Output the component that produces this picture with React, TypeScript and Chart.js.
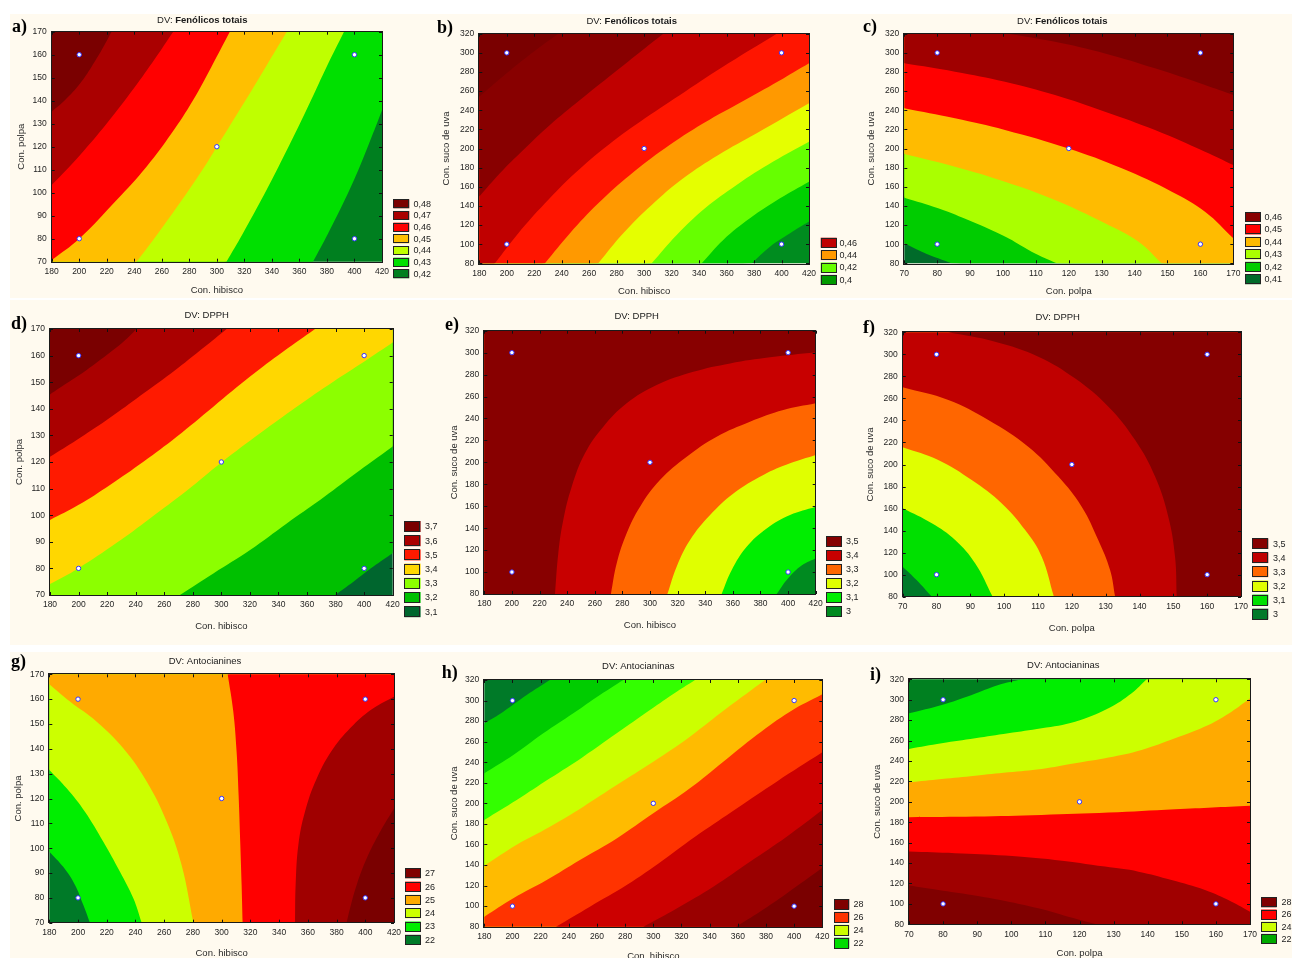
import React, { useEffect, useRef } from 'react';
import { Chart, registerables } from 'chart.js';

Chart.register(...registerables);

type Pt = [number, number];

// ---------- axis ranges [min, max, step] ----------
const hibiscoRange = [180, 420, 20];
const polpaRange = [70, 170, 10];
const sucoRange = [80, 320, 20];

// ---------- design points ----------
const hibPolpaDesign: Pt[] = [[200, 160], [400, 160], [300, 120], [200, 80], [400, 80]];
const hibSucoDesign: Pt[] = [[200, 300], [400, 300], [300, 200], [200, 100], [400, 100]];
const polpaSucoDesign: Pt[] = [[80, 300], [160, 300], [120, 200], [80, 100], [160, 100]];

// ---------- a) Fenólicos totais: hibisco x polpa ----------
const aBoundaries: Pt[][] = [
  [[369.9, 70], [380.8, 82.3], [392.9, 96.8], [403.8, 111.3], [413.5, 125.8], [420, 135.9]],
  [[307.0, 70], [318.9, 82.3], [332.2, 96.8], [344.8, 111.3], [356.9, 125.8], [368.5, 140.3], [379.8, 154.8], [392.4, 170]],
  [[241.7, 70], [257.2, 82.3], [274.6, 96.8], [291.0, 111.3], [300, 120], [321.0, 140.3], [335.6, 154.8], [350.8, 170]],
  [[180, 70.7], [200, 80], [227.2, 96.8], [248.9, 111.3], [267.1, 125.8], [282.8, 140.3], [296.1, 154.8], [309.4, 170]],
  [[180, 103.3], [200, 116.0], [220, 130.1], [240, 145.6], [255, 158.2], [268.3, 170]],
  [[180, 135.2], [189.7, 140.3], [200.6, 147.5], [209.0, 154.8], [216.3, 162.0], [223.5, 170]],
];
const aSides = ['tr tl bl', 'tl bl', 'tl bl', 'tl', 'tl', 'tl'];
const aRegionColors = ['#007f1f', '#00e000', '#bfff00', '#ffbf00', '#ff0000', '#aa0000', '#7a0000'];
const aLegendLabels = ['0,48', '0,47', '0,46', '0,45', '0,44', '0,43', '0,42'];
const aLegendColors = ['#7a0000', '#aa0000', '#ff0000', '#ffbf00', '#bfff00', '#00e000', '#007f1f'];

// ---------- b) Fenólicos totais: hibisco x suco ----------
const bBoundaries: Pt[][] = [
  [[378.3, 80], [391.6, 97.4], [406.2, 111.4], [420, 123.6]],
  [[341.9, 80], [357.6, 104.4], [377.0, 127.0], [398.9, 147.9], [420, 165.3]],
  [[305.5, 80], [323.7, 109.6], [344.3, 137.5], [367.3, 161.9], [394.0, 186.3], [420, 207.1]],
  [[266.6, 80], [284.8, 111.4], [305.5, 141.0], [328.5, 168.8], [354.0, 193.2], [381.9, 215.9], [420, 247.2]],
  [[227.8, 80], [246.0, 111.4], [266.6, 142.7], [289.7, 172.3], [315.2, 200.2], [343.1, 226.3], [373.4, 250.7], [401.3, 273.3], [420, 289.0]],
  [[191.4, 80], [208.4, 111.4], [227.8, 142.7], [249.6, 174.1], [273.9, 203.7], [300.6, 231.5], [329.7, 259.4], [361.3, 289.0], [396.5, 320]],
  [[180, 149.7], [195.0, 174.1], [212.0, 198.4], [231.4, 224.6], [253.3, 250.7], [277.6, 278.6], [295.7, 299.4], [314.0, 320]],
  [[180, 254.2], [192.6, 269.8], [207.2, 287.3], [221.7, 303.6], [237.5, 320]],
];
const bSides = ['tr tl bl', 'tr tl bl', 'tr tl bl', 'tr tl bl', 'tr tl bl', 'tl bl', 'tl', 'tl'];
const bRegionColors = ['#008c1f', '#00d000', '#66ff00', '#e5ff00', '#ff9900', '#ff1500', '#c00000', '#880000', '#7a0000'];
const bLegendLabels = ['0,46', '0,44', '0,42', '0,4'];
const bLegendColors = ['#c00000', '#ff9900', '#66ff00', '#009a00'];

// ---------- c) Fenólicos totais: polpa x suco ----------
const cBoundaries: Pt[][] = [
  [[70, 100.9], [75.3, 92.2], [80.3, 85.3], [84.4, 80]],
  [[70, 148.6], [80.3, 137.5], [90.5, 123.6], [100.6, 107.9], [108.7, 92.2], [116.3, 80]],
  [[70, 194.3], [85.4, 181.0], [100.6, 165.3], [115.8, 146.2], [131.0, 121.8], [141.1, 102.7], [148.2, 80]],
  [[70, 242.0], [85.4, 231.5], [100.6, 219.3], [119.65, 200.2], [136.1, 179.3], [151.3, 154.9], [161.4, 134.0], [170, 106.1]],
  [[70, 289.0], [85.4, 280.3], [100.6, 269.8], [115.8, 255.9], [131.0, 238.5], [146.2, 219.3], [161.4, 196.7], [170, 182.8]],
  [[101.6, 320], [115.8, 311.6], [131.0, 299.4], [146.2, 283.8], [161.4, 266.4], [170, 255.9]],
];
const cSides = ['br tr tl', 'br tr tl', 'br tr tl', 'tr tl', 'tr tl', 'tr'];
const cRegionColors = ['#006b2a', '#00cc00', '#aaff00', '#ffbb00', '#ff0000', '#a00000', '#7f0000'];
const cLegendLabels = ['0,46', '0,45', '0,44', '0,43', '0,42', '0,41'];
const cLegendColors = ['#880000', '#ff0000', '#ffbb00', '#aaff00', '#00cc00', '#006b2a'];

// ---------- d) DPPH: hibisco x polpa ----------
const dBoundaries: Pt[][] = [
  [[379.6, 70], [392.5, 75.0], [406.5, 80.7], [420, 85.7]],
  [[271.0, 70], [294.4, 78.1], [320.1, 86.9], [345.8, 96.9], [369.1, 105.7], [392.5, 115.1], [420, 125.8]],
  [[180, 74.1], [199.8, 80.0], [226.7, 89.6], [250.0, 98.8], [275.7, 109.2], [300.2, 119.9], [327.1, 130.8], [352.8, 140.8], [378.4, 150.2], [399.9, 157.7], [420, 164.9]],
  [[180, 98.2], [199.8, 103.8], [222.0, 111.4], [245.4, 120.1], [268.7, 129.5], [294.4, 140.8], [320.1, 152.1], [343.4, 161.5], [365.6, 170]],
  [[180, 122.0], [198.7, 128.3], [219.7, 135.8], [240.7, 143.9], [261.7, 152.1], [282.7, 160.9], [303.7, 170]],
  [[180, 145.4], [191.7, 149.6], [205.7, 154.6], [219.7, 160.2], [231.4, 165.2], [240.7, 170]],
];
const dSides = ['tr tl bl', 'tr tl bl', 'tr tl', 'tl', 'tl', 'tl'];
const dRegionColors = ['#00662e', '#00c000', '#8cff00', '#ffd700', '#ff1a00', '#aa0000', '#7a0000'];
const dLegendLabels = ['3,7', '3,6', '3,5', '3,4', '3,3', '3,2', '3,1'];
const dLegendColors = ['#7a0000', '#aa0000', '#ff1a00', '#ffd700', '#8cff00', '#00c000', '#00662e'];

// ---------- e) DPPH: hibisco x suco ----------
const eBoundaries: Pt[][] = [
  [[391.8, 80], [399.0, 92.8], [408.6, 104.9], [420, 112.5]],
  [[351.9, 80], [359.2, 101.9], [370.0, 123.1], [384.5, 139.8], [401.4, 152.0], [420, 159.6]],
  [[312.6, 80], [319.3, 104.9], [329.0, 129.2], [343.5, 152.0], [360.4, 171.7], [382.1, 188.5], [401.4, 199.1], [420, 206.7]],
  [[271.7, 80], [275.9, 108.0], [283.1, 135.3], [292.8, 159.6], [307.2, 183.9], [326.6, 205.2], [348.3, 223.4], [372.4, 237.1], [396.6, 247.7], [420, 253.8]],
  [[231.2, 80], [233.6, 117.1], [237.2, 147.4], [243.3, 177.8], [252.9, 208.2], [266.2, 232.5], [283.1, 253.8], [304.8, 270.5], [331.4, 282.6], [358.0, 290.2], [386.9, 295.7], [420, 300.3]],
];
const eSides = ['tr tl bl', 'tr tl bl', 'tr tl bl', 'tr tl bl', 'tr tl bl'];
const eRegionColors = ['#008a20', '#00ee00', '#e0ff00', '#ff6600', '#c80000', '#880000'];
const eLegendLabels = ['3,5', '3,4', '3,3', '3,2', '3,1', '3'];
const eLegendColors = ['#850000', '#c80000', '#ff6600', '#e0ff00', '#00ee00', '#008a20'];

// ---------- f) DPPH: polpa x suco ----------
const fBoundaries: Pt[][] = [
  [[70, 107.2], [74.1, 95.1], [78.6, 80]],
  [[70, 160.2], [78.6, 146.6], [85.5, 131.4], [91.4, 110.3], [96.6, 80]],
  [[70, 215.6], [80.5, 204.1], [90.4, 185.9], [99.3, 164.7], [106.2, 140.5], [111.1, 116.3], [114.7, 80]],
  [[70, 270.1], [83.5, 258.6], [95.3, 240.4], [107.1, 216.2], [116.0, 189.0], [122.9, 161.7], [127.8, 131.4], [131.3, 104.2], [132.8, 80]],
  [[83.5, 320], [97.3, 311.5], [110.1, 297.9], [120.9, 278.2], [130.8, 252.5], [138.7, 222.2], [144.6, 189.0], [148.5, 152.6], [150.5, 116.3], [151.0, 80]],
];
const fSides = ['br tr tl', 'br tr tl', 'br tr tl', 'br tr tl', 'br tr'];
const fRegionColors = ['#007a2a', '#00e000', '#e0ff00', '#ff6600', '#c00000', '#850000'];
const fLegendLabels = ['3,5', '3,4', '3,3', '3,2', '3,1', '3'];
const fLegendColors = ['#850000', '#c00000', '#ff6600', '#e0ff00', '#00e000', '#007a2a'];

// ---------- g) Antocianinas: hibisco x polpa ----------
const gBoundaries: Pt[][] = [
  [[180, 98.6], [189.7, 92.5], [197.9, 85.2], [203.7, 77.1], [208.3, 70]],
  [[180, 131.5], [192.1, 124.1], [204.8, 114.7], [217.6, 102.6], [229.2, 90.5], [238.5, 79.8], [244.3, 70]],
  [[180, 166.0], [194.4, 159.0], [213.0, 150.9], [231.5, 140.2], [247.8, 126.8], [261.7, 110.7], [272.1, 93.2], [280.3, 70]],
  [[304.2, 170], [308.1, 155.0], [310.4, 138.9], [311.8, 121.4], [313.0, 101.3], [313.9, 85.2], [314.6, 70]],
  [[420, 161.0], [405.6, 156.3], [391.7, 149.6], [377.8, 140.2], [366.2, 128.1], [358.0, 114.7], [353.4, 101.3], [351.5, 85.2], [351.1, 70]],
  [[420, 116.0], [410.3, 106.6], [401.0, 95.9], [394.0, 85.2], [389.4, 75.8], [387.0, 70]],
];
const gSides = ['br tr tl', 'br tr tl', 'br tr tl', 'br tr', 'br', 'br'];
const gRegionColors = ['#007a28', '#00ee00', '#ccff00', '#ffaa00', '#ff0000', '#a00000', '#7a0000'];
const gLegendLabels = ['27', '26', '25', '24', '23', '22'];
const gLegendColors = ['#800000', '#ff0000', '#ffaa00', '#ccff00', '#00ee00', '#007a28'];

// ---------- h) Antocianinas: hibisco x suco ----------
const hBoundaries: Pt[][] = [
  [[180, 277.8], [193.5, 289.2], [210.1, 305.4], [226.6, 320]],
  [[180, 229.2], [200.6, 247.0], [221.9, 268.1], [243.2, 287.6], [262.1, 305.4], [278.7, 320]],
  [[180, 183.8], [203.0, 203.2], [226.6, 224.3], [250.3, 245.4], [274.0, 268.1], [297.6, 290.8], [316.6, 308.6], [329.6, 320]],
  [[180, 139.4], [203.0, 159.8], [226.6, 177.3], [250.3, 196.8], [274.0, 217.8], [300.0, 240.5], [326.0, 264.9], [352.1, 292.4], [379.3, 320]],
  [[180, 89.7], [200.6, 107.6], [224.3, 125.4], [247.9, 144.9], [274.0, 165.9], [300.0, 190.3], [326.0, 214.6], [349.7, 240.5], [373.4, 266.5], [397.0, 289.2], [420, 306.1]],
  [[230.9, 80], [255.0, 99.5], [281.1, 120.5], [307.1, 144.9], [333.1, 170.8], [359.2, 195.1], [387.6, 221.1], [420, 249.6]],
  [[292.9, 80], [316.6, 97.8], [342.6, 118.9], [368.6, 143.2], [394.7, 167.6], [420, 193.5]],
  [[358.7, 80], [375.7, 94.6], [394.7, 112.4], [420, 137.4]],
];
const hSides = ['tr br bl', 'tr br bl', 'tr br bl', 'tr br bl', 'br bl', 'br', 'br', 'br'];
const hRegionColors = ['#007a28', '#00cc00', '#33ff00', '#ccff00', '#ffbb00', '#ff3300', '#cc0000', '#9a0000', '#7a0000'];
const hLegendLabels = ['28', '26', '24', '22'];
const hLegendColors = ['#800000', '#ff3300', '#ccff00', '#00dd00'];

// ---------- i) Antocianinas: polpa x suco ----------
const iBoundaries: Pt[][] = [
  [[70, 286.7], [79.6, 294.9], [88.4, 304.7], [96.2, 314.4], [103.0, 320]],
  [[70, 251.8], [79.6, 257.3], [89.4, 262.2], [99.1, 267.1], [108.9, 272.0], [118.7, 278.5], [128.5, 291.6], [135.3, 306.3], [139.7, 320]],
  [[70, 219.1], [79.6, 222.4], [89.4, 225.6], [99.1, 228.9], [108.9, 232.2], [118.7, 237.7], [128.5, 243.3], [138.2, 250.8], [148.0, 262.2], [157.8, 275.3], [164.6, 288.3], [170, 301.4]],
  [[70, 184.8], [89.4, 185.5], [108.9, 187.1], [128.5, 189.4], [148.0, 192.7], [170, 196.2]],
  [[70, 151.2], [83.5, 149.6], [98.2, 147.3], [112.8, 143.0], [127.5, 136.5], [137.3, 131.6], [147.0, 123.4], [156.8, 113.6], [164.6, 102.2], [170, 92.4]],
  [[70, 117.9], [78.6, 113.6], [88.4, 108.7], [98.2, 102.9], [107.9, 95.7], [116.7, 87.5], [125.0, 80]],
];
const iSides = ['tr br bl', 'tr br bl', 'br bl', 'br bl', 'br bl', 'bl'];
const iRegionColors = ['#008020', '#00ee00', '#ccff00', '#ffaa00', '#ff0000', '#a00000', '#800000'];
const iLegendLabels = ['28', '26', '24', '22'];
const iLegendColors = ['#800000', '#ff0000', '#ccff00', '#00aa00'];

// ---------- layout / style ----------
const SANS = "'Liberation Sans', Arial, Helvetica, sans-serif";
const SERIF = "'Liberation Serif', 'Times New Roman', serif";
const CREAM = '#fffaef';
const CURVE_TENSION = 0.4;

const PANELS: any[] = [
  { id: 'a', canvas: { left: 0, top: 0, width: 445, height: 300 }, plot: { L: 51.7, R: 382, T: 31.7, B: 261.7 },
    xr: hibiscoRange, yr: polpaRange, xTitle: 'Con. hibisco', yTitle: 'Con. polpa', xTitleY: 290, yTitleX: 21.7,
    title: ['DV: ', 'Fenólicos totais'], titleBold: true, titlePos: [202.3, 20], letter: 'a)', letterPos: [12, 27],
    boundaries: aBoundaries, sides: aSides, regionColors: aRegionColors, design: hibPolpaDesign,
    legendLabels: aLegendLabels, legendColors: aLegendColors, legend: { x: 393.3, w: 16, top: 199.3, pitch: 11.67, h: 9, labelX: 413.5 } },
  { id: 'b', canvas: { left: 428, top: 0, width: 445, height: 300 }, plot: { L: 479.3, R: 809, T: 33.7, B: 263.3 },
    xr: hibiscoRange, yr: sucoRange, xTitle: 'Con. hibisco', yTitle: 'Con. suco de uva', xTitleY: 291.7, yTitleX: 446,
    title: ['DV: ', 'Fenólicos totais'], titleBold: true, titlePos: [631.7, 21.7], letter: 'b)', letterPos: [437, 28],
    boundaries: bBoundaries, sides: bSides, regionColors: bRegionColors, design: hibSucoDesign,
    legendLabels: bLegendLabels, legendColors: bLegendColors, legend: { x: 820.7, w: 16, top: 237.7, pitch: 12.4, h: 10, labelX: 839.5 } },
  { id: 'c', canvas: { left: 850, top: 0, width: 442, height: 300 }, plot: { L: 904.3, R: 1233.3, T: 33.7, B: 263.3 },
    xr: polpaRange, yr: sucoRange, xTitle: 'Con. polpa', yTitle: 'Con. suco de uva', xTitleY: 291.7, yTitleX: 871,
    title: ['DV: ', 'Fenólicos totais'], titleBold: true, titlePos: [1062.3, 21], letter: 'c)', letterPos: [863, 27],
    boundaries: cBoundaries, sides: cSides, regionColors: cRegionColors, design: polpaSucoDesign,
    legendLabels: cLegendLabels, legendColors: cLegendColors, legend: { x: 1245, w: 16, top: 212, pitch: 12.45, h: 10, labelX: 1264.5 } },
  { id: 'd', canvas: { left: 0, top: 298, width: 445, height: 350 }, plot: { L: 50, R: 392.7, T: 329, B: 595 },
    xr: hibiscoRange, yr: polpaRange, xTitle: 'Con. hibisco', yTitle: 'Con. polpa', xTitleY: 626.7, yTitleX: 19,
    title: ['DV: DPPH', ''], titleBold: false, titlePos: [206.7, 315], letter: 'd)', letterPos: [11, 324],
    boundaries: dBoundaries, sides: dSides, regionColors: dRegionColors, design: hibPolpaDesign,
    legendLabels: dLegendLabels, legendColors: dLegendColors, legend: { x: 404.3, w: 16.3, top: 521, pitch: 14.2, h: 11, labelX: 425 } },
  { id: 'e', canvas: { left: 428, top: 298, width: 445, height: 350 }, plot: { L: 484.3, R: 815.7, T: 330.7, B: 594 },
    xr: hibiscoRange, yr: sucoRange, xTitle: 'Con. hibisco', yTitle: 'Con. suco de uva', xTitleY: 625, yTitleX: 454,
    title: ['DV: DPPH', ''], titleBold: false, titlePos: [636.7, 316.7], letter: 'e)', letterPos: [445, 325],
    boundaries: eBoundaries, sides: eSides, regionColors: eRegionColors, design: hibSucoDesign,
    legendLabels: eLegendLabels, legendColors: eLegendColors, legend: { x: 826, w: 16, top: 536, pitch: 14, h: 10.5, labelX: 846 } },
  { id: 'f', canvas: { left: 850, top: 298, width: 442, height: 350 }, plot: { L: 902.7, R: 1241, T: 332.3, B: 596.7 },
    xr: polpaRange, yr: sucoRange, xTitle: 'Con. polpa', yTitle: 'Con. suco de uva', xTitleY: 628.3, yTitleX: 870,
    title: ['DV: DPPH', ''], titleBold: false, titlePos: [1057.7, 317.3], letter: 'f)', letterPos: [863, 328],
    boundaries: fBoundaries, sides: fSides, regionColors: fRegionColors, design: polpaSucoDesign,
    legendLabels: fLegendLabels, legendColors: fLegendColors, legend: { x: 1252.3, w: 16, top: 538.3, pitch: 14.07, h: 10.7, labelX: 1273 } },
  { id: 'g', canvas: { left: 0, top: 648, width: 445, height: 320 }, plot: { L: 49.3, R: 394, T: 674.3, B: 922.7 },
    xr: hibiscoRange, yr: polpaRange, xTitle: 'Con. hibisco', yTitle: 'Con. polpa', xTitleY: 953.3, yTitleX: 18.3,
    title: ['DV: Antocianines', ''], titleBold: false, titlePos: [205, 661.7], letter: 'g)', letterPos: [11, 662],
    boundaries: gBoundaries, sides: gSides, regionColors: gRegionColors, design: hibPolpaDesign,
    legendLabels: gLegendLabels, legendColors: gLegendColors, legend: { x: 405, w: 15.7, top: 868.3, pitch: 13.3, h: 10, labelX: 425 } },
  { id: 'h', canvas: { left: 428, top: 648, width: 445, height: 320 }, plot: { L: 484.3, R: 822.3, T: 680, B: 926.7 },
    xr: hibiscoRange, yr: sucoRange, xTitle: 'Con. hibisco', yTitle: 'Con. suco de uva', xTitleY: 956.7, yTitleX: 454,
    title: ['DV: Antocianinas', ''], titleBold: false, titlePos: [638.3, 666.7], letter: 'h)', letterPos: [441.7, 673],
    boundaries: hBoundaries, sides: hSides, regionColors: hRegionColors, design: hibSucoDesign,
    legendLabels: hLegendLabels, legendColors: hLegendColors, legend: { x: 834, w: 15.3, top: 899, pitch: 12.9, h: 10.7, labelX: 853.5 } },
  { id: 'i', canvas: { left: 850, top: 648, width: 442, height: 320 }, plot: { L: 909, R: 1250, T: 679.3, B: 924.3 },
    xr: polpaRange, yr: sucoRange, xTitle: 'Con. polpa', yTitle: 'Con. suco de uva', xTitleY: 953.3, yTitleX: 877.7,
    title: ['DV: Antocianinas', ''], titleBold: false, titlePos: [1063.3, 665.7], letter: 'i)', letterPos: [870, 675.5],
    boundaries: iBoundaries, sides: iSides, regionColors: iRegionColors, design: polpaSucoDesign,
    legendLabels: iLegendLabels, legendColors: iLegendColors, legend: { x: 1261, w: 15.7, top: 897.3, pitch: 12.2, h: 10, labelX: 1281.5 } },
];

function cornerOf(k: string, xr: number[], yr: number[]): Pt {
  const mx = (xr[1] - xr[0]) * 0.1;
  const my = (yr[1] - yr[0]) * 0.1;
  const xl = xr[0] - mx, xh = xr[1] + mx, yl = yr[0] - my, yh = yr[1] + my;
  if (k === 'tl') return [xl, yh];
  if (k === 'tr') return [xh, yh];
  if (k === 'br') return [xh, yl];
  return [xl, yl];
}

const decorPlugin = {
  id: 'decor',
  afterDraw(chart: any, _args: any, o: any) {
    const ctx = chart.ctx;
    const { left, right, top, bottom } = chart.chartArea;
    const ox = o.offX, oy = o.offY;
    ctx.save();
    ctx.strokeStyle = '#111';
    ctx.lineWidth = 1;
    const xs = chart.scales.x, ys = chart.scales.y;
    ctx.beginPath();
    xs.ticks.forEach((t: any) => {
      const px = Math.round(xs.getPixelForValue(t.value)) + 0.5;
      ctx.moveTo(px, bottom); ctx.lineTo(px, bottom - 3);
      ctx.moveTo(px, top); ctx.lineTo(px, top + 3);
    });
    ys.ticks.forEach((t: any) => {
      const py = Math.round(ys.getPixelForValue(t.value)) + 0.5;
      ctx.moveTo(left, py); ctx.lineTo(left + 3, py);
      ctx.moveTo(right, py); ctx.lineTo(right - 3, py);
    });
    ctx.stroke();
    ctx.strokeStyle = '#1a1a1a';
    ctx.strokeRect(Math.round(left) - 0.5, Math.round(top) - 0.5, Math.round(right - left) + 1, Math.round(bottom - top) + 1);

    ctx.fillStyle = '#000';
    ctx.textBaseline = 'middle';
    ctx.textAlign = 'left';
    ctx.font = `bold 18px ${SERIF}`;
    ctx.fillText(o.letter, o.letterPos[0] - ox, o.letterPos[1] - oy);

    const fNorm = `9.5px ${SANS}`;
    const fBold = `bold 9.5px ${SANS}`;
    ctx.font = fNorm;
    const w1 = ctx.measureText(o.title[0]).width;
    ctx.font = o.titleBold ? fBold : fNorm;
    const w2 = o.title[1] ? ctx.measureText(o.title[1]).width : 0;
    const sx = o.titlePos[0] - ox - (w1 + w2) / 2;
    const sy = o.titlePos[1] - oy;
    ctx.fillStyle = '#1a1a1a';
    ctx.font = fNorm;
    ctx.fillText(o.title[0], sx, sy);
    if (o.title[1]) {
      ctx.font = o.titleBold ? fBold : fNorm;
      ctx.fillText(o.title[1], sx + w1, sy);
    }

    const lg = o.legend;
    ctx.font = `9px ${SANS}`;
    o.legendLabels.forEach((lab: string, i: number) => {
      const bx = lg.x - ox;
      const by = lg.top + i * lg.pitch - oy;
      ctx.fillStyle = o.legendColors[i];
      ctx.fillRect(bx, by, lg.w, lg.h);
      ctx.strokeStyle = '#222';
      ctx.strokeRect(Math.round(bx) + 0.5, Math.round(by) + 0.5, Math.round(lg.w) - 1, Math.round(lg.h) - 1);
      ctx.fillStyle = '#222';
      ctx.fillText(lab, lg.labelX - ox, by + lg.h / 2 + 0.5);
    });
    ctx.restore();
  },
};

function buildConfig(p: any) {
  const cx = p.canvas.left, cy = p.canvas.top, W = p.canvas.width, H = p.canvas.height;
  const aL = p.plot.L - cx, aR = p.plot.R - cx, aT = p.plot.T - cy, aB = p.plot.B - cy;
  const lh = 9.5 * 1.2;
  const xH = (p.xTitleY - cy) - aB + lh / 2;
  const padBottom = Math.max(0, H - aB - xH);
  const yTitlePad = (p.yTitleX - cx) - lh / 2;
  const toXY = (pts: Pt[]) => pts.map(([x, y]) => ({ x, y }));

  const layers: any[] = [];
  layers.push({ pts: ['bl', 'br', 'tr', 'tl'].map((k) => cornerOf(k, p.xr, p.yr)), color: p.regionColors[0], tension: 0 });
  p.boundaries.forEach((b: Pt[], i: number) => {
    const corners = p.sides[i].split(' ').map((k: string) => cornerOf(k, p.xr, p.yr));
    // end points repeated so the smoothing stays on the contour and the closing edges stay straight
    const curve = [b[0], ...b, b[b.length - 1]];
    layers.push({ pts: [...curve, ...corners], color: p.regionColors[i + 1], tension: CURVE_TENSION });
  });
  const layerSets = layers.slice().reverse().map((l) => ({
    data: toXY(l.pts),
    showLine: true,
    fill: 'shape',
    backgroundColor: l.color,
    borderColor: 'rgba(0,0,0,0)',
    borderWidth: 0,
    pointRadius: 0,
    pointHoverRadius: 0,
    pointHitRadius: 0,
    tension: l.tension,
    capBezierPoints: false,
  }));
  const designSet = {
    data: toXY(p.design),
    showLine: false,
    pointRadius: 2.2,
    pointHoverRadius: 2.2,
    pointBorderWidth: 1,
    pointBackgroundColor: '#ffffff',
    pointBorderColor: '#3535ff',
  };

  const tickFont = { size: 8.5, family: SANS };
  const titleFont = { size: 9.5, family: SANS };
  return {
    type: 'scatter',
    data: { datasets: [designSet, ...layerSets] },
    plugins: [decorPlugin],
    options: {
      responsive: false,
      maintainAspectRatio: false,
      animation: false,
      devicePixelRatio: 1,
      events: [],
      layout: { autoPadding: false, padding: { left: 0, right: W - aR, top: aT, bottom: padBottom } },
      plugins: {
        legend: { display: false },
        tooltip: { enabled: false },
        title: { display: false },
        decor: {
          offX: cx, offY: cy, letter: p.letter, letterPos: p.letterPos, title: p.title, titleBold: p.titleBold,
          titlePos: p.titlePos, legend: p.legend, legendLabels: p.legendLabels, legendColors: p.legendColors,
        },
      },
      scales: {
        x: {
          type: 'linear', position: 'bottom', min: p.xr[0], max: p.xr[1],
          ticks: { stepSize: p.xr[2], autoSkip: false, maxRotation: 0, minRotation: 0, padding: 5, color: '#1e1e1e', font: tickFont },
          grid: { display: false, drawTicks: false },
          border: { display: false },
          title: { display: true, text: p.xTitle, color: '#2a2a2a', font: titleFont, padding: { top: 0, bottom: 0 } },
          afterFit: (s: any) => { s.height = xH; },
        },
        y: {
          type: 'linear', position: 'left', min: p.yr[0], max: p.yr[1],
          ticks: { stepSize: p.yr[2], autoSkip: false, padding: 5, color: '#1e1e1e', font: tickFont },
          grid: { display: false, drawTicks: false },
          border: { display: false },
          title: { display: true, text: p.yTitle, color: '#2a2a2a', font: titleFont, padding: { top: yTitlePad, bottom: 0 } },
          afterFit: (s: any) => { s.width = aL; },
        },
      },
    },
  };
}

function Panel({ cfg }: { cfg: any }) {
  const ref = useRef<HTMLCanvasElement | null>(null);
  useEffect(() => {
    if (!ref.current) return;
    const chart = new Chart(ref.current, buildConfig(cfg) as any);
    return () => chart.destroy();
  }, [cfg]);
  return (
    <canvas
      ref={ref}
      width={cfg.canvas.width}
      height={cfg.canvas.height}
      style={{ position: 'absolute', left: cfg.canvas.left, top: cfg.canvas.top, width: cfg.canvas.width, height: cfg.canvas.height }}
    />
  );
}

export default function App() {
  return (
    <div style={{ position: 'absolute', left: 0, top: 0, width: 1292, height: 958, background: '#ffffff', overflow: 'hidden' }}>
      <div style={{ position: 'absolute', left: 10, top: 14, width: 1282, height: 284, background: CREAM }} />
      <div style={{ position: 'absolute', left: 10, top: 300, width: 1282, height: 345, background: CREAM }} />
      <div style={{ position: 'absolute', left: 10, top: 652, width: 1282, height: 306, background: CREAM }} />
      {PANELS.map((p) => (
        <Panel key={p.id} cfg={p} />
      ))}
    </div>
  );
}
